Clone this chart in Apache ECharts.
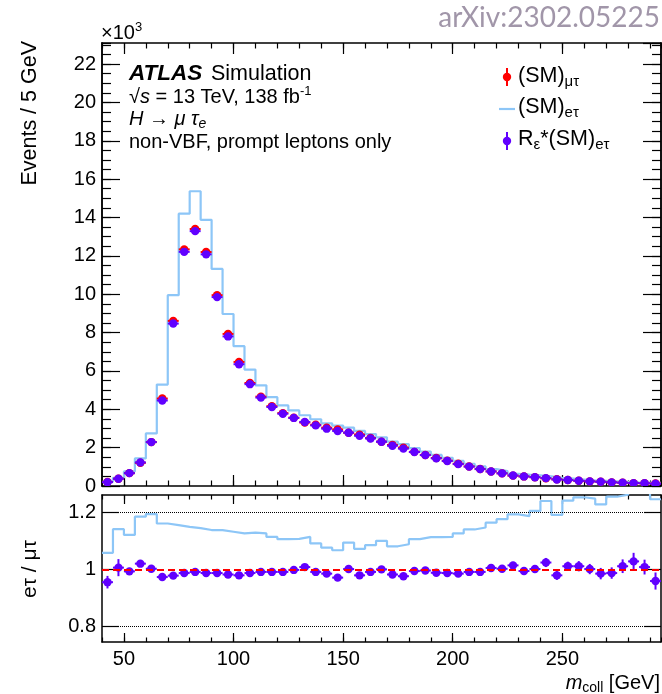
<!DOCTYPE html>
<html><head><meta charset="utf-8">
<script src="https://cdn.jsdelivr.net/npm/echarts@6/dist/echarts.min.js"></script>
<style>html,body{margin:0;padding:0;background:#fff}#c{width:662px;height:694px}</style>
</head><body><div id="c"></div>
<script>
// ---- data (values in units of 10^3 events / 5 GeV) ----
const binLow = [40,45,50,55,60,65,70,75,80,85,90,95,100,105,110,115,120,125,130,135,140,145,150,155,160,165,170,175,180,185,190,195,200,205,210,215,220,225,230,235,240,245,250,255,260,265,270,275,280,285,290];
const smMuTau = [0.21,0.38,0.67,1.21,2.29,4.56,8.61,12.34,13.40,12.20,9.95,7.93,6.47,5.37,4.66,4.16,3.80,3.56,3.31,3.19,3.04,2.95,2.78,2.68,2.50,2.31,2.14,2.00,1.78,1.62,1.46,1.32,1.16,1.02,0.89,0.76,0.66,0.54,0.50,0.46,0.40,0.35,0.31,0.27,0.24,0.22,0.19,0.17,0.15,0.14,0.13];
const smETau = [0.22,0.43,0.76,1.44,2.74,5.29,9.95,14.20,15.37,13.88,11.32,8.97,7.29,6.07,5.25,4.63,4.20,3.94,3.69,3.48,3.27,3.15,3.04,2.87,2.71,2.54,2.31,2.18,1.97,1.80,1.62,1.47,1.31,1.16,1.02,0.88,0.78,0.64,0.59,0.55,0.50,0.42,0.38,0.34,0.30,0.27,0.24,0.21,0.19,0.18,0.16];
const rEpsSmETau = [0.20,0.38,0.67,1.23,2.29,4.46,8.47,12.21,13.29,12.08,9.85,7.80,6.35,5.31,4.61,4.12,3.77,3.55,3.34,3.16,2.99,2.87,2.78,2.62,2.48,2.31,2.10,1.95,1.77,1.61,1.44,1.30,1.14,1.01,0.88,0.76,0.66,0.55,0.50,0.46,0.41,0.34,0.31,0.27,0.24,0.22,0.19,0.17,0.15,0.14,0.12];
const ratioSmETau = [1.058,1.141,1.121,1.185,1.194,1.161,1.155,1.149,1.145,1.138,1.138,1.132,1.126,1.129,1.126,1.114,1.106,1.107,1.114,1.091,1.076,1.067,1.094,1.072,1.085,1.100,1.081,1.088,1.106,1.113,1.113,1.114,1.126,1.140,1.147,1.164,1.176,1.193,1.187,1.205,1.240,1.191,1.241,1.253,1.248,1.228,1.255,1.262,1.28,1.28,1.246];
const ratioREps = [0.955,1.006,0.993,1.020,1.002,0.973,0.978,0.987,0.991,0.987,0.987,0.982,0.979,0.987,0.991,0.991,0.991,0.998,1.008,0.991,0.985,0.971,1.001,0.979,0.991,1.000,0.982,0.976,0.994,0.996,0.988,0.987,0.985,0.991,0.991,1.005,1.002,1.014,0.994,1.001,1.024,0.979,1.011,1.011,1.001,0.985,0.987,1.011,1.028,1.008,0.959];
const ratioREpsErr = [0.022,0.03,0.012,0.01,0.008,0.006,0.005,0.004,0.004,0.004,0.004,0.004,0.004,0.004,0.005,0.005,0.005,0.005,0.005,0.005,0.005,0.006,0.006,0.006,0.006,0.006,0.007,0.007,0.007,0.007,0.008,0.008,0.008,0.009,0.009,0.010,0.010,0.012,0.012,0.013,0.016,0.016,0.016,0.018,0.018,0.02,0.02,0.024,0.03,0.026,0.03];
const xTickLabels = [50,100,150,200,250];
const ratioTickLabels = [0.8,1,1.2];

const BIN = 5;
const F = '"Liberation Sans", Arial, Helvetica, sans-serif';
const RED = '#ff0000', PURPLE = '#6100ff', BLUE = '#8dc6f7';

function stepData(vals){ const d = binLow.map((x,i)=>[x, vals[i]]); d.push([binLow[binLow.length-1]+BIN, vals[vals.length-1]]); return d; }
function pointData(vals, errs){ return binLow.map((x,i)=>[x+BIN/2, vals[i], errs ? errs[i] : 0]); }
function pointRenderer(color){
  return function(params, api){
    const x=api.value(0), y=api.value(1), e=api.value(2);
    const c=api.coord([x,y]);
    const l=api.coord([x-BIN/2,y]), r=api.coord([x+BIN/2,y]);
    const ch=[
      {type:'line', shape:{x1:l[0],y1:c[1],x2:r[0],y2:c[1]}, style:{stroke:color,lineWidth:2}},
      {type:'circle', shape:{cx:c[0],cy:c[1],r:4.2}, style:{fill:color}}
    ];
    if (e>0){
      const t=api.coord([x,y+e]), b=api.coord([x,y-e]);
      ch.push({type:'line', shape:{x1:c[0],y1:t[1],x2:c[0],y2:b[1]}, style:{stroke:color,lineWidth:2}});
    }
    return {type:'group', children:ch};
  };
}
function xAx(grid, pos, tickLen, long, labels){
  const a = {type:'value', gridIndex:grid, position:pos, min:40, max:295, interval:10,
    axisLine:{show:!long, onZero:false, lineStyle:{color:'#000', width:1.5}},
    axisTick:{show:true, inside:true, length:tickLen, lineStyle:{color:'#000', width:1.2}},
    axisLabel:{show:false}, splitLine:{show:false}};
  if (long) a.axisTick.customValues = xTickLabels;
  if (labels) a.axisLabel = {show:true, customValues:xTickLabels, color:'#000', fontSize:20, fontFamily:F, margin:7};
  return a;
}
function yMain(pos, interval, tickLen, labels){
  return {type:'value', gridIndex:0, position:pos, min:0, max:23.1, interval:interval,
    axisLine:{show:true, onZero:false, lineStyle:{color:'#000', width:1.5}},
    axisTick:{show:true, inside:true, length:tickLen, lineStyle:{color:'#000', width:1.2}},
    axisLabel: labels ? {show:true, color:'#000', fontSize:20, fontFamily:F, margin:6, showMaxLabel:false} : {show:false},
    splitLine:{show:false}};
}
function yRatio(pos, labels){
  return {type:'value', gridIndex:1, position:pos, min:0.745, max:1.261,
    axisLine:{show:true, onZero:false, lineStyle:{color:'#000', width:1.5}},
    axisTick:{show:true, inside:true, length:17, customValues:ratioTickLabels, lineStyle:{color:'#000', width:1.2}},
    axisLabel: labels ? {show:true, customValues:ratioTickLabels, color:'#000', fontSize:20, fontFamily:F, margin:6} : {show:false},
    splitLine:{show:false}};
}

const txt = (x,y,text,extra) => ({type:'text', x:x, y:y, silent:true, z:50,
  style:Object.assign({text:text, fill:'#000', fontSize:20, fontFamily:F, align:'left', verticalAlign:'middle'}, extra||{})});
const base = {fontSize:20, fontFamily:F, fill:'#000', lineHeight:24};
const rich = {
  n: base,
  i: Object.assign({}, base, {fontStyle:'italic'}),
  sup: {fontSize:13, fontFamily:F, fill:'#000', lineHeight:12, verticalAlign:'top'},
  sub: {fontSize:14, fontFamily:F, fill:'#000', lineHeight:14, verticalAlign:'bottom'},
  isub: {fontSize:14, fontFamily:F, fill:'#000', fontStyle:'italic', lineHeight:14, verticalAlign:'bottom'}
};
const lbase = {fontSize:21.5, fontFamily:F, fill:'#000', lineHeight:26};
const lrich = {
  n: lbase,
  sub: {fontSize:15, fontFamily:F, fill:'#000', lineHeight:15, verticalAlign:'bottom'}
};

const option = {
  animation:false,
  backgroundColor:'#fff',
  grid:[{left:102, right:1, top:43, height:443}, {left:102, right:1, top:495, height:147}],
  xAxis:[
    xAx(0,'bottom',5.5,false,false), xAx(0,'bottom',11,true,false),
    xAx(0,'top',5.5,false,false), xAx(0,'top',11,true,false),
    xAx(1,'bottom',4.5,false,false), xAx(1,'bottom',9,true,true),
    xAx(1,'top',4.5,false,false), xAx(1,'top',9,true,false)
  ],
  yAxis:[
    yMain('left',2,18,true), yMain('left',0.5,9,false),
    yMain('right',2,18,false), yMain('right',0.5,9,false),
    yRatio('left',true), yRatio('right',false)
  ],
  series:[
    {type:'line', xAxisIndex:0, yAxisIndex:0, data:stepData(smETau), step:'end', symbol:'none', clip:true,
     lineStyle:{color:BLUE, width:2.2}, z:2},
    {type:'custom', xAxisIndex:0, yAxisIndex:0, data:pointData(smMuTau), renderItem:pointRenderer(RED), encode:{x:0,y:1}, z:3, clip:true},
    {type:'custom', xAxisIndex:0, yAxisIndex:0, data:pointData(rEpsSmETau), renderItem:pointRenderer(PURPLE), encode:{x:0,y:1}, z:4, clip:true},
    {type:'line', xAxisIndex:4, yAxisIndex:4, data:[], z:1,
     markLine:{silent:true, symbol:'none', label:{show:false}, animation:false,
       data:[
         {yAxis:1.2, lineStyle:{type:'dotted', color:'#000', width:1}},
         {yAxis:0.8, lineStyle:{type:'dotted', color:'#000', width:1}},
         {yAxis:1.0, lineStyle:{type:[7,4], color:RED, width:2}}
       ]}},
    {type:'line', xAxisIndex:4, yAxisIndex:4, data:stepData(ratioSmETau), step:'end', symbol:'none', clip:true,
     lineStyle:{color:BLUE, width:2.2}, z:2},
    {type:'custom', xAxisIndex:4, yAxisIndex:4, data:pointData(ratioREps, ratioREpsErr), renderItem:pointRenderer(PURPLE), encode:{x:0,y:1}, z:4, clip:true}
  ],
  graphic:[
    txt(660, 18, 'arXiv:2302.05225', {align:'right', fontSize:28, fontFamily:'Lato, "Open Sans", sans-serif', fill:'#a196a9'}),
    txt(101, 33, '×10{sup|3}', {rich:{sup:{fontSize:13, fontFamily:F, fill:'#000', lineHeight:12, verticalAlign:'top'}}, lineHeight:24}),
    Object.assign(txt(30, 41, 'Events / 5 GeV', {align:'right', fontSize:21.5}), {rotation:Math.PI/2}),
    Object.assign(txt(30, 569, 'e\u03c4 / \u03bc\u03c4', {align:'center', fontSize:21}), {rotation:Math.PI/2}),
    txt(660, 683, '{i|m}{sub|coll} [GeV]', {align:'right', rich:rich}),
    txt(129, 74, 'ATLAS', {fontSize:22.5, fontWeight:'bold', fontStyle:'italic'}),
    txt(211, 74, 'Simulation', {fontSize:21.5}),
    txt(129, 97, '{n|\u221a}{i|s}{n| = 13 TeV, 138 fb}{sup|-1}', {rich:rich}),
    txt(129, 119, '{i|H}{n| \u2192 }{i|\u03bc \u03c4}{isub|e}', {rich:rich}),
    txt(129, 142, 'non-VBF, prompt leptons only'),
    // legend
    {type:'line', shape:{x1:507,y1:68,x2:507,y2:86}, style:{stroke:RED, lineWidth:2}, z:50},
    {type:'circle', shape:{cx:507,cy:77,r:4.2}, style:{fill:RED}, z:50},
    txt(518, 76, '{n|(SM)}{sub|\u03bc\u03c4}', {rich:lrich}),
    {type:'line', shape:{x1:499,y1:109,x2:515,y2:109}, style:{stroke:BLUE, lineWidth:2.2}, z:50},
    txt(518, 107, '{n|(SM)}{sub|e\u03c4}', {rich:lrich}),
    {type:'line', shape:{x1:507,y1:132,x2:507,y2:150}, style:{stroke:PURPLE, lineWidth:2}, z:50},
    {type:'circle', shape:{cx:507,cy:141,r:4.2}, style:{fill:PURPLE}, z:50},
    txt(518, 139, '{n|R}{sub|\u03b5}{n|*(SM)}{sub|e\u03c4}', {rich:lrich})
  ]
};
const chart = echarts.init(document.getElementById('c'), null, {renderer:'canvas'});
chart.setOption(option);
</script></body></html>
